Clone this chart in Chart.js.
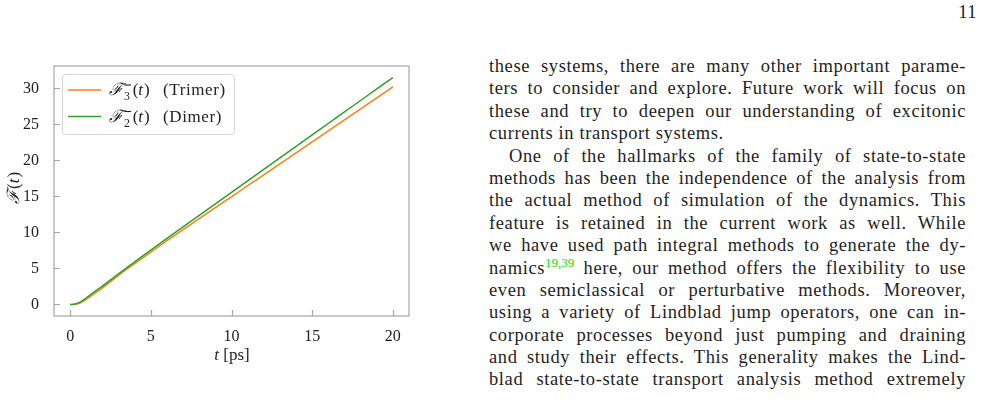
<!DOCTYPE html>
<html>
<head>
<meta charset="utf-8">
<script src="https://cdn.jsdelivr.net/npm/chart.js@4.4.1/dist/chart.umd.min.js"></script>
<style>
body{margin:0;width:985px;height:403px;overflow:hidden;background:#fff;position:relative;font-family:'Liberation Serif',serif;color:#1e1e1e}
#wrap{position:absolute;left:0;top:0;width:440px;height:403px}
#page{position:absolute;right:8px;top:0;font-size:18.5px;line-height:24px;letter-spacing:0.5px}
#txt{position:absolute;left:489px;top:55px;width:477px;font-size:18.5px;line-height:22.4px;letter-spacing:0.6px}
#txt div{text-align:justify;text-align-last:justify;height:22.4px}
#txt div.end{text-align-last:left}
#txt div.ind{text-indent:20px}
sup{font-size:13px;line-height:0;color:#00e000;vertical-align:7px;letter-spacing:0}
</style>
</head>
<body>
<div id="wrap"><canvas id="fluxChart"></canvas></div>
<div id="page">11</div>
<div id="txt">
<div>these systems, there are many other important parame-</div>
<div>ters to consider and explore. Future work will focus on</div>
<div>these and try to deepen our understanding of excitonic</div>
<div class="end">currents in transport systems.</div>
<div class="ind">One of the hallmarks of the family of state-to-state</div>
<div>methods has been the independence of the analysis from</div>
<div>the actual method of simulation of the dynamics. This</div>
<div>feature is retained in the current work as well. While</div>
<div>we have used path integral methods to generate the dy-</div>
<div>namics<sup>19,39</sup> here, our method offers the flexibility to use</div>
<div>even semiclassical or perturbative methods. Moreover,</div>
<div>using a variety of Lindblad jump operators, one can in-</div>
<div>corporate processes beyond just pumping and draining</div>
<div>and study their effects. This generality makes the Lind-</div>
<div>blad state-to-state transport analysis method extremely</div>
</div>
<script>
// time grid in ps
const times = [0, 0.25, 0.5, 0.75, 1, 1.5, 2, 3, 4, 5, 6, 7, 8, 9, 10, 11, 12, 13, 14, 15, 16, 17, 18, 19, 20];
const trimer = [0, 0.02, 0.13, 0.38, 0.72, 1.5, 2.3, 4.05, 5.68, 7.27, 8.85, 10.38, 11.9, 13.43, 14.95, 16.48, 18.0, 19.53, 21.05, 22.58, 24.1, 25.63, 27.15, 28.68, 30.2];
const dimer = [0, 0.04, 0.2, 0.5, 0.9, 1.75, 2.55, 4.25, 5.92, 7.55, 9.17, 10.77, 12.36, 13.96, 15.55, 17.15, 18.74, 20.34, 21.93, 23.53, 25.12, 26.72, 28.31, 29.91, 31.5];
const xTicks = [0, 5, 10, 15, 20];
const yTicks = [0, 5, 10, 15, 20, 25, 30];

const orange = '#ff7f0e';
const green = '#2ca02c';
const frameColor = '#a6a6a6';
const textColor = '#1e1e1e';
const serif = "'Liberation Serif', 'DejaVu Serif', serif";

function toPoints(ys) {
    return times.map((t, i) => ({x: t, y: ys[i]}));
}

// draws  F_sub^-(t), returns the x where it ends
function drawF(ctx, x, y, sub, size) {
    ctx.textBaseline = 'alphabetic';
    ctx.textAlign = 'left';
    ctx.font = 'italic ' + size + 'px ' + serif;
    ctx.fillText('\u2131', x, y);
    x += ctx.measureText('\u2131').width + 1;
    if (sub) {
        const s = size * 0.7;
        ctx.font = s + 'px ' + serif;
        // superscript minus as a short bar
        ctx.fillRect(x + 0.5, y - size * 0.62, s * 0.55, 1.1);
        ctx.fillText(sub, x, y + size * 0.3);
        x += Math.max(s * 0.6, ctx.measureText(sub).width) + 1.5;
    }
    ctx.font = size + 'px ' + serif;
    ctx.fillText('(', x, y);
    x += ctx.measureText('(').width;
    ctx.font = 'italic ' + size + 'px ' + serif;
    ctx.fillText('t', x, y);
    x += ctx.measureText('t').width + 1;
    ctx.font = size + 'px ' + serif;
    ctx.fillText(')', x, y);
    return x + ctx.measureText(')').width;
}

const decor = {
    id: 'decor',
    afterDatasetsDraw(chart) {
        const ctx = chart.ctx;
        const a = chart.chartArea;
        const xs = chart.scales.x, ys = chart.scales.y;
        ctx.save();
        // frame
        ctx.strokeStyle = frameColor;
        ctx.lineWidth = 1.2;
        ctx.strokeRect(a.left, a.top, a.right - a.left, a.bottom - a.top);
        // inward ticks
        ctx.beginPath();
        xTicks.forEach(v => {
            const px = Math.round(xs.getPixelForValue(v)) + 0.5;
            ctx.moveTo(px, a.bottom);
            ctx.lineTo(px, a.bottom - 6);
        });
        yTicks.forEach(v => {
            const py = Math.round(ys.getPixelForValue(v)) + 0.5;
            ctx.moveTo(a.left, py);
            ctx.lineTo(a.left + 6, py);
        });
        ctx.stroke();

        // legend
        const lx = 62.5, ly = 74.5, lw = 172, lh = 60, r = 3;
        ctx.beginPath();
        ctx.moveTo(lx + r, ly);
        ctx.arcTo(lx + lw, ly, lx + lw, ly + lh, r);
        ctx.arcTo(lx + lw, ly + lh, lx, ly + lh, r);
        ctx.arcTo(lx, ly + lh, lx, ly, r);
        ctx.arcTo(lx, ly, lx + lw, ly, r);
        ctx.closePath();
        ctx.fillStyle = 'rgba(255,255,255,0.85)';
        ctx.fill();
        ctx.strokeStyle = '#d4d4d4';
        ctx.lineWidth = 1;
        ctx.stroke();
        const legendRows = [0, 1].map(i => chart.data.datasets[i]);
        legendRows.forEach((ds, i) => {
            const yy = 90 + i * 26.5;
            ctx.strokeStyle = ds.borderColor;
            ctx.lineWidth = 1.5;
            ctx.beginPath();
            ctx.moveTo(68, yy);
            ctx.lineTo(101, yy);
            ctx.stroke();
            ctx.fillStyle = textColor;
            drawF(ctx, 109, yy + 5, ds.sub, 17);
            ctx.font = '17px ' + serif;
            ctx.letterSpacing = '0.6px';
            ctx.fillText(ds.label, 163, yy + 5);
            ctx.letterSpacing = '0px';
        });

        // axis titles
        ctx.fillStyle = textColor;
        ctx.save();
        ctx.translate(19, 204);
        ctx.rotate(-Math.PI / 2);
        drawF(ctx, 0, 0, '', 17);
        ctx.restore();
        ctx.font = 'italic 17px ' + serif;
        ctx.textAlign = 'left';
        const tw = ctx.measureText('t').width;
        ctx.font = '17px ' + serif;
        const rw = ctx.measureText(' [ps]').width;
        const sx = 232 - (tw + rw) / 2;
        ctx.font = 'italic 17px ' + serif;
        ctx.fillText('t', sx, 360);
        ctx.font = '17px ' + serif;
        ctx.fillText(' [ps]', sx + tw, 360);
        ctx.restore();
    }
};

new Chart(document.getElementById('fluxChart'), {
    type: 'line',
    data: {
        datasets: [
            {
                label: '(Trimer)',
                sub: '3',
                data: toPoints(trimer),
                borderColor: orange,
                borderWidth: 1.5,
                pointRadius: 0,
                cubicInterpolationMode: 'monotone',
                order: 1
            },
            {
                label: '(Dimer)',
                sub: '2',
                data: toPoints(dimer),
                borderColor: green,
                borderWidth: 1.5,
                pointRadius: 0,
                cubicInterpolationMode: 'monotone',
                order: 0
            }
        ]
    },
    options: {
        responsive: true,
        maintainAspectRatio: false,
        animation: false,
        layout: {
            padding: {left: 0, top: 66, right: 31, bottom: 0}
        },
        plugins: {
            legend: {display: false},
            tooltip: {enabled: false}
        },
        scales: {
            x: {
                type: 'linear',
                min: -1,
                max: 21,
                grid: {display: false},
                border: {display: false},
                afterBuildTicks: s => { s.ticks = xTicks.map(v => ({value: v})); },
                afterFit: s => { s.height = 87; },
                ticks: {
                    padding: 3,
                    color: textColor,
                    font: {family: serif, size: 16}
                }
            },
            y: {
                min: -1.6,
                max: 33.1,
                grid: {display: false},
                border: {display: false},
                afterBuildTicks: s => { s.ticks = yTicks.map(v => ({value: v})); },
                afterFit: s => { s.width = 54; },
                ticks: {
                    padding: 7,
                    color: textColor,
                    font: {family: serif, size: 16}
                }
            }
        }
    },
    plugins: [decor]
});
</script>
</body>
</html>
